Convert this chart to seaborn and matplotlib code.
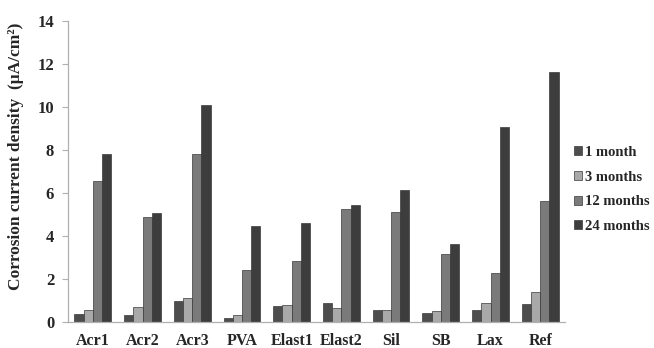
import numpy as np
import pandas as pd
import matplotlib
matplotlib.use("Agg")
import matplotlib.pyplot as plt
import seaborn as sns

categories = ["Acr1", "Acr2", "Acr3", "PVA", "Elast1", "Elast2", "Sil", "SB", "Lax", "Ref"]
periods = ["1 month", "3 months", "12 months", "24 months"]
month_1 = [0.36, 0.33, 0.97, 0.17, 0.72, 0.86, 0.54, 0.41, 0.57, 0.83]
month_3 = [0.57, 0.68, 1.12, 0.33, 0.80, 0.63, 0.54, 0.50, 0.88, 1.38]
month_12 = [6.53, 4.88, 7.80, 2.42, 2.85, 5.27, 5.12, 3.17, 2.28, 5.64]
month_24 = [7.80, 5.07, 10.08, 4.48, 4.60, 5.45, 6.12, 3.62, 9.08, 11.60]

series = [month_1, month_3, month_12, month_24]
df = pd.DataFrame({
    "material": np.repeat([categories], len(periods), axis=0).ravel(),
    "period": np.repeat(periods, len(categories)),
    "value": np.concatenate(series),
})

colors = ["#4d4d4d", "#a9a9a9", "#7a7a7a", "#3d3d3d"]

sns.set_style("white")
plt.rcParams["font.family"] = ["Liberation Serif", "DejaVu Serif"]
plt.rcParams["font.weight"] = "bold"

fig = plt.figure(figsize=(6.54, 3.48), dpi=100)
ax = fig.add_axes([0.104, 0.075, 0.76, 0.865])

sns.barplot(data=df, x="material", y="value", hue="period", order=categories,
            hue_order=periods, palette=colors, width=0.74, saturation=1,
            linewidth=0.5, edgecolor="#3a3a3a", ax=ax)

ax.set_ylim(0, 14)
ax.set_yticks(np.arange(0, 15, 2))
ax.set_xlim(-0.5, len(categories) - 0.5)
ax.set_xlabel("")
ax.set_ylabel("Corrosion current density  (\u03bcA/cm\u00b2)", fontsize=12.5,
              fontweight="bold")
ax.yaxis.set_label_coords(-0.088, 0.55)

for side in ["top", "right"]:
    ax.spines[side].set_visible(False)
for side in ["left", "bottom"]:
    ax.spines[side].set_color("#b0b0b0")
    ax.spines[side].set_linewidth(0.9)

ax.tick_params(axis="y", which="major", direction="out", length=4, width=0.8,
               color="#b0b0b0", labelsize=12, pad=6, left=True)
ax.tick_params(axis="x", length=0, labelsize=11.5, pad=8)
for lbl in ax.get_xticklabels() + ax.get_yticklabels():
    lbl.set_fontweight("bold")

handles, labels = ax.get_legend_handles_labels()
leg = ax.legend(handles, labels, loc="center left", bbox_to_anchor=(1.0, 0.44),
                frameon=False, fontsize=10.5, handlelength=0.55, handleheight=0.55,
                handletextpad=0.2, labelspacing=0.8, borderaxespad=0.2)
for t in leg.get_texts():
    t.set_fontweight("bold")

fig.savefig("out.png", dpi=100)
